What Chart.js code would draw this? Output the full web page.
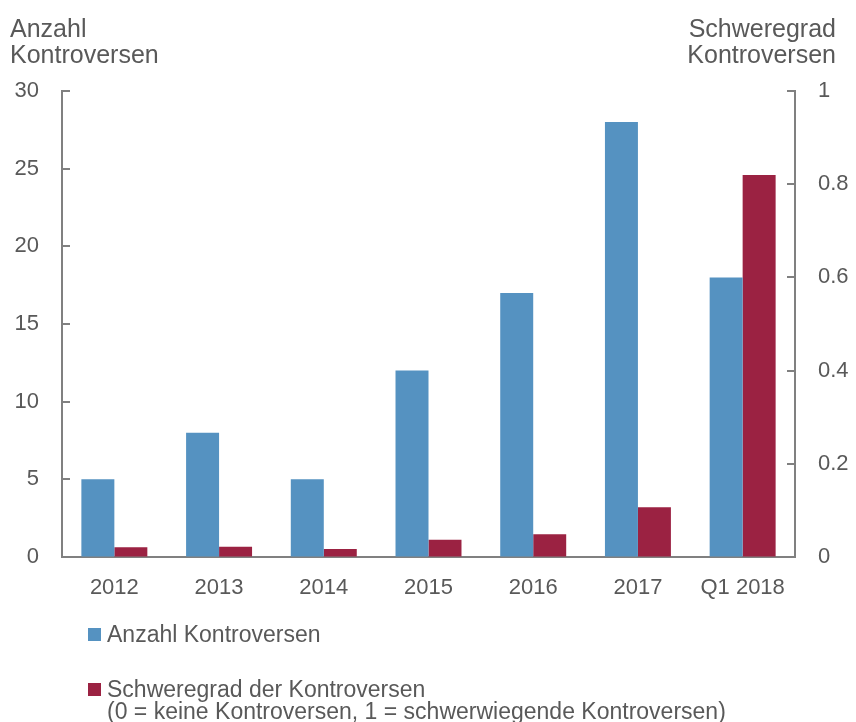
<!DOCTYPE html>
<html>
<head>
<meta charset="utf-8">
<script src="https://cdn.jsdelivr.net/npm/chart.js@4/dist/chart.umd.min.js"></script>
<style>
  html, body { margin: 0; padding: 0; background: #ffffff; }
  #wrap { width: 856px; height: 722px; position: relative; }
</style>
</head>
<body>
<div id="wrap"><canvas id="c" width="856" height="722"></canvas></div>
<script>
const categories = ['2012', '2013', '2014', '2015', '2016', '2017', 'Q1 2018'];
const anzahl = [5, 8, 5, 12, 17, 28, 18];
const schweregrad = [0.021, 0.022, 0.017, 0.037, 0.049, 0.107, 0.82];
const leftTitle = ['Anzahl', 'Kontroversen'];
const rightTitle = ['Schweregrad', 'Kontroversen'];
const rightTickLabels = ['0', '0.2', '0.4', '0.6', '0.8', '1'];
const legendItems = [
  { text: ['Anzahl Kontroversen'], color: '#5592C1' },
  { text: ['Schweregrad der Kontroversen', '(0 = keine Kontroversen, 1 = schwerwiegende Kontroversen)'], color: '#9B2242' }
];

const FONT = '"Liberation Sans", Arial, sans-serif';
const TEXT = '#595959';
const AXIS = '#808080';

const decor = {
  id: 'decor',
  afterDraw(chart) {
    const ctx = chart.ctx;
    const ca = chart.chartArea;
    ctx.save();
    // inward tick marks
    ctx.strokeStyle = AXIS;
    ctx.lineWidth = 2;
    const yl = chart.scales.y, yr = chart.scales.y1;
    yl.ticks.forEach(t => {
      const py = Math.round(yl.getPixelForValue(t.value));
      ctx.beginPath(); ctx.moveTo(ca.left, py); ctx.lineTo(ca.left + 8, py); ctx.stroke();
    });
    yr.ticks.forEach(t => {
      const py = Math.round(yr.getPixelForValue(t.value));
      ctx.beginPath(); ctx.moveTo(ca.right, py); ctx.lineTo(ca.right - 8, py); ctx.stroke();
    });
    // axis titles
    ctx.fillStyle = TEXT;
    ctx.font = '25px ' + FONT;
    ctx.textBaseline = 'alphabetic';
    ctx.textAlign = 'left';
    leftTitle.forEach((s, i) => ctx.fillText(s, 10, ca.top - 54 + i * 26));
    ctx.textAlign = 'right';
    rightTitle.forEach((s, i) => ctx.fillText(s, chart.width - 20, ca.top - 54 + i * 26));
    // legend
    ctx.textAlign = 'left';
    ctx.font = '23px ' + FONT;
    let y = ca.bottom + 85;
    legendItems.forEach((it, k) => {
      ctx.fillStyle = it.color;
      ctx.fillRect(ca.left + 26, y - 14, 13, 13);
      ctx.fillStyle = TEXT;
      it.text.forEach((s, i) => ctx.fillText(s, ca.left + 45, y + i * 22));
      y += 55;
    });
    ctx.restore();
  }
};

new Chart(document.getElementById('c'), {
  type: 'bar',
  data: {
    labels: categories,
    datasets: [
      { label: 'Anzahl Kontroversen', data: anzahl, backgroundColor: '#5592C1', yAxisID: 'y',
        categoryPercentage: 0.63, barPercentage: 1.0 },
      { label: 'Schweregrad der Kontroversen', data: schweregrad, backgroundColor: '#9B2242', yAxisID: 'y1',
        categoryPercentage: 0.63, barPercentage: 1.0 }
    ]
  },
  options: {
    responsive: false,
    animation: false,
    layout: { padding: { top: 91, bottom: 120, left: 0, right: 0 } },
    plugins: { legend: { display: false }, tooltip: { enabled: false } },
    scales: {
      x: {
        grid: { display: false, drawTicks: false },
        border: { display: true, color: AXIS, width: 2 },
        ticks: { color: TEXT, font: { family: FONT, size: 22 }, padding: 18, maxRotation: 0 },
        afterFit(s) { s.height = 45; }
      },
      y: {
        position: 'left', min: 0, max: 30,
        grid: { drawOnChartArea: false, drawTicks: false },
        border: { display: true, color: AXIS, width: 2 },
        ticks: { stepSize: 5, color: TEXT, font: { family: FONT, size: 22 }, padding: 23 },
        afterFit(s) { s.width = 62; }
      },
      y1: {
        position: 'right', min: 0, max: 1,
        grid: { drawOnChartArea: false, drawTicks: false },
        border: { display: true, color: AXIS, width: 2 },
        ticks: { stepSize: 0.2, color: TEXT, font: { family: FONT, size: 22 }, padding: 23,
          callback: (v, i) => rightTickLabels[i] },
        afterFit(s) { s.width = 61; }
      }
    }
  },
  plugins: [decor]
});
</script>
</body>
</html>
